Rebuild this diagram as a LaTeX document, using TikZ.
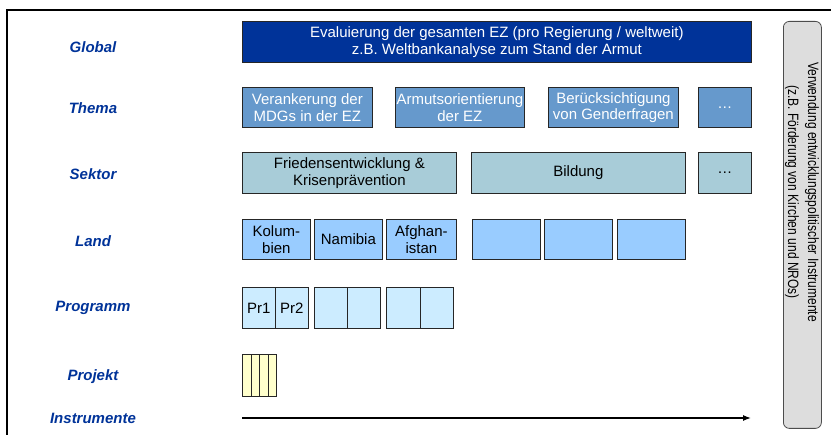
\documentclass[tikz,border=0pt]{standalone}
\usepackage{fontspec}
\setmainfont{Liberation Sans}
\usetikzlibrary{arrows.meta}
\definecolor{lvltext}{RGB}{0,51,153}
\definecolor{globalfill}{RGB}{0,51,153}
\definecolor{themafill}{RGB}{102,153,204}
\definecolor{sektorfill}{RGB}{168,204,216}
\definecolor{landfill}{RGB}{153,204,255}
\definecolor{progfill}{RGB}{204,236,255}
\definecolor{projfill}{RGB}{255,255,204}
\definecolor{instrfill}{RGB}{221,221,221}
\begin{document}
\begin{tikzpicture}[x=1pt,y=-1pt,
  box/.style={draw=black!85, line width=0.8pt, inner sep=0pt, align=center,
    anchor=north west, font=\fontsize{15}{16.5}\selectfont},
  level/.style={text=lvltext, font=\fontsize{15}{17}\selectfont\bfseries\itshape,
    text height=11pt, text depth=0pt, inner sep=0pt},
]
\useasboundingbox (0,0) rectangle (831,435);
\fill[white] (0,0) rectangle (831,435);
% outer frame (open to the right and bottom)
\draw[line width=2pt] (7,435) -- (7,10.5) -- (831,10.5);

% level labels
\node[level] (lGlobal) at (93,47) {Global};
\node[level] (lThema) at (93,108) {Thema};
\node[level] (lSektor) at (93,174) {Sektor};
\node[level] (lLand) at (93,241) {Land};
\node[level] (lProg) at (93,306) {Programm};
\node[level] (lProj) at (93,375) {Projekt};
\node[level] (lInstr) at (93,418) {Instrumente};

% global
\node[box, fill=globalfill, text=white, minimum width=509pt, minimum height=41pt] (glob) at (242,21)
  {Evaluierung der gesamten EZ (pro Regierung / weltweit)\\z.B. Weltbankanalyse zum Stand der Armut};

% themes
\node[box, fill=themafill, text=white, minimum width=130pt, minimum height=40pt] (t1) at (242,87)
  {Verankerung der\\MDGs in der EZ};
\node[box, fill=themafill, text=white, minimum width=129pt, minimum height=40pt] (t2) at (395,87)
  {Armutsorientierung\\der EZ};
\node[box, fill=themafill, text=white, minimum width=130pt, minimum height=40pt] (t3) at (548,87)
  {Berücksichtigung\\von Genderfragen};
\node[box, fill=themafill, text=white, minimum width=53pt, minimum height=40pt] (t4) at (698,87) {\dots};

% sectors
\node[box, fill=sektorfill, minimum width=214pt, minimum height=41pt] (s1) at (242,152)
  {Friedensentwicklung \&\\Krisenprävention};
\node[box, fill=sektorfill, minimum width=214pt, minimum height=41pt] (s2) at (471,152) {Bildung};
\node[box, fill=sektorfill, minimum width=53pt, minimum height=41pt] (s3) at (698,152) {\dots};

% countries
\node[box, fill=landfill, minimum width=68pt, minimum height=40pt] (c1) at (242,219) {Kolum-\\bien};
\node[box, fill=landfill, minimum width=68pt, minimum height=40pt] (c2) at (314,219) {Namibia};
\node[box, fill=landfill, minimum width=70pt, minimum height=40pt] (c3) at (386,219) {Afghan-\\istan};
\node[box, fill=landfill, minimum width=68pt, minimum height=40pt] (c4) at (472,219) {};
\node[box, fill=landfill, minimum width=68pt, minimum height=40pt] (c5) at (544,219) {};
\node[box, fill=landfill, minimum width=68pt, minimum height=40pt] (c6) at (617,219) {};

% programmes
\node[box, fill=progfill, minimum width=33pt, minimum height=41pt] (p1) at (242,287) {Pr1};
\node[box, fill=progfill, minimum width=33pt, minimum height=41pt] (p2) at (275,287) {Pr2};
\node[box, fill=progfill, minimum width=33pt, minimum height=41pt] (p3) at (314,287) {};
\node[box, fill=progfill, minimum width=33pt, minimum height=41pt] (p4) at (347,287) {};
\node[box, fill=progfill, minimum width=34pt, minimum height=41pt] (p5) at (386,287) {};
\node[box, fill=progfill, minimum width=33pt, minimum height=41pt] (p6) at (420,287) {};

% projects
\node[box, fill=projfill, minimum width=8.5pt, minimum height=42pt] (q1) at (242,354) {};
\node[box, fill=projfill, minimum width=8.5pt, minimum height=42pt] (q2) at (250.5,354) {};
\node[box, fill=projfill, minimum width=8.5pt, minimum height=42pt] (q3) at (259,354) {};
\node[box, fill=projfill, minimum width=8.5pt, minimum height=42pt] (q4) at (267.5,354) {};

% instruments axis
\coordinate (a0) at (242,418);
\coordinate (a1) at (751,418);
\draw[line width=1.2pt, -{Latex[length=8pt,width=6pt]}] (a0) -- (a1);

% instruments side bar
\node[draw=black!70, line width=0.8pt, rounded corners=6pt, fill=instrfill, inner sep=0pt,
  minimum width=38pt, minimum height=407pt, anchor=north west] (side) at (783,21) {};
\node[rotate=-90, inner sep=0pt, font=\fontsize{15}{20}\selectfont] (sidetext) at (802,192)
  {\scalebox{0.8}[1]{\begin{tabular}{@{}c@{}}Verwendung entwicklungspolitischer Instrumente\\(z.B. Förderung von Kirchen und NROs)\end{tabular}}};
\end{tikzpicture}
\end{document}
